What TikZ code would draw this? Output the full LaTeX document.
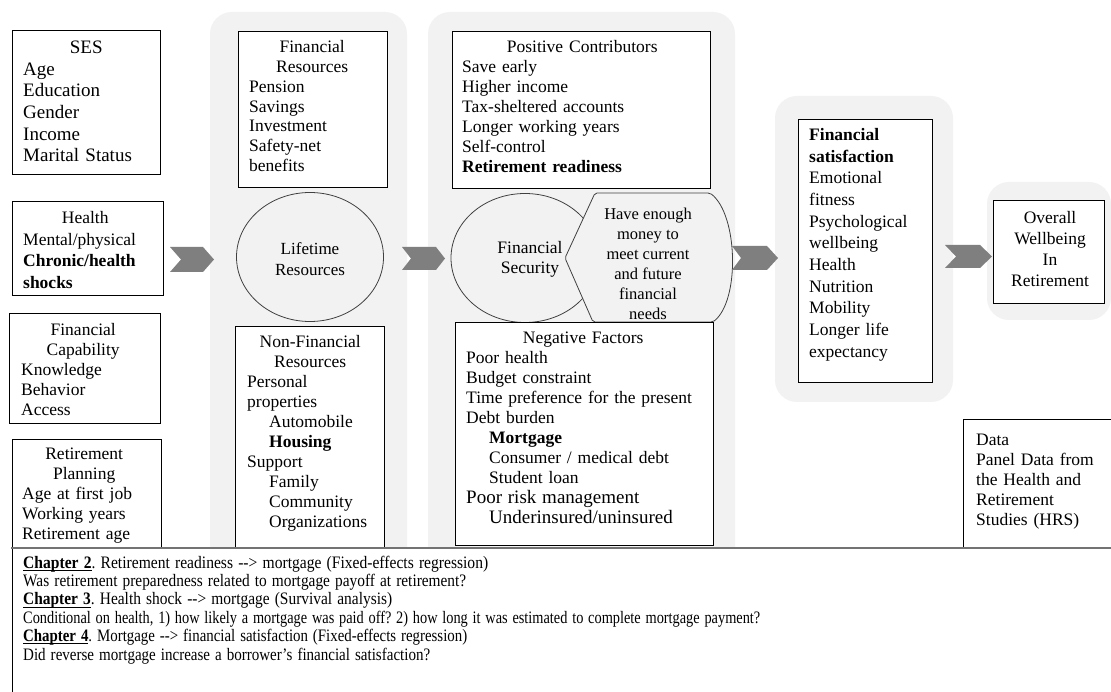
\documentclass[tikz,border=0pt]{standalone}
\usepackage{fontspec}
\setmainfont{Liberation Serif}
\usetikzlibrary{shapes.geometric,fit}
\definecolor{panelgray}{HTML}{F2F2F2}
\definecolor{arrowgray}{HTML}{7F7F7F}
\definecolor{circline}{HTML}{404040}
\newcommand\chapul[1]{\setbox0\hbox{\textbf{#1}}\rlap{\rule[-2.6pt]{\wd0}{0.9pt}}\box0}
\newcommand\fitline[2]{\resizebox{#1}{\height}{\strut #2}}
\frenchspacing
\begin{document}
\begin{tikzpicture}[x=1pt,y=-1pt,
  panel/.style={fill=panelgray, draw=none, rounded corners=22pt, inner sep=0pt},
  box/.style={draw=black, fill=white, line width=0.8pt, inner sep=0pt},
  txt/.style={inner sep=0pt, anchor=north west, align=left},
  circ/.style={ellipse, draw=circline, fill=panelgray, line width=0.8pt, inner sep=0pt},
  chev/.style={fill=arrowgray, draw=none},
  fA/.style={font=\fontsize{17.5}{20}\selectfont},
  fB/.style={font=\fontsize{17.5}{21.7}\selectfont}]
\useasboundingbox (0,0) rectangle (1111,692);
\fill[white] (0,0) rectangle (1111,692);

% panels
\node[panel, fit={(210,12) (407,620)}] (p1) {};
\node[panel, fit={(428,12) (735,620)}] (p2) {};
\node[panel, fit={(775,96) (953,402)}] (p3) {};
\node[panel, fit={(987,182) (1111,320)}] (p4) {};

% left column
\node[box, fit={(12,30) (160,174)}] (ses) {};
\node[txt, text width=126pt, font=\fontsize{19}{21.7}\selectfont] (sest) at (23,38)
  {{\centering\strut SES\par}Age\\Education\\Gender\\Income\\Marital Status};

\node[box, fit={(12,201) (163,295)}] (health) {};
\node[txt, fB, text width=124pt] (healtht) at (23,208)
  {{\centering\strut Health\par}Mental/physical\\\textbf{Chronic/health}\\\textbf{shocks}};

\node[box, fit={(9,313) (160,423)}] (fincap) {};
\node[txt, fA, text width=124pt] (fincapt) at (21,321)
  {{\centering\strut Financial\\Capability\par}Knowledge\\Behavior\\Access};

\node[box, fit={(12,439) (161,548)}] (retplan) {};
\node[txt, fA, text width=124pt] (retplant) at (22,445)
  {{\centering\strut Retirement\\Planning\par}Age at first job\\Working years\\Retirement age};

% panel 1
\node[box, fit={(238,31) (387,187)}] (finres) {};
\node[txt, font=\fontsize{17.5}{19.7}\selectfont, text width=126pt] (finrest) at (249,39)
  {{\centering\strut Financial\\Resources\par}Pension\\Savings\\Investment\\Safety-net\\benefits};

\node[circ, minimum width=147pt, minimum height=129pt] (life) at (310,257) {};
\node[font=\fontsize{17}{21}\selectfont, align=center, inner sep=0pt] (lifet) at (310,259)
  {Lifetime\\Resources};

\node[box, fit={(235,326) (384,560)}] (nonfin) {};
\node[txt, fA, text width=126pt] (nonfint) at (247,333)
  {{\centering\strut Non-Financial\\Resources\par}Personal\\properties\\
   \hspace*{22pt}Automobile\\\hspace*{22pt}\textbf{Housing}\\Support\\
   \hspace*{22pt}Family\\\hspace*{22pt}Community\\\hspace*{22pt}Organizations};

% panel 2
\node[box, fit={(452,31) (710,188)}] (poscon) {};
\node[txt, fA, text width=240pt] (pocont) at (462,38)
  {{\centering\strut Positive Contributors\par}Save early\\Higher income\\Tax-sheltered accounts\\
   Longer working years\\Self-control\\\textbf{Retirement readiness}};

\node[circ, minimum width=148pt, minimum height=129pt] (finsec) at (525,258) {};
\node[font=\fontsize{17.5}{20}\selectfont, align=center, inner sep=0pt] (finsect) at (530,259)
  {Financial\\Security};

\path[fill=panelgray, draw=circline, line width=0.8pt, rounded corners=2pt]
  (595,193) -- (710,193) .. controls (738,215) and (740,300) .. (713,322)
  -- (593,322) -- (565,258) -- cycle;
\node[font=\fontsize{16.5}{20}\selectfont, align=center, inner sep=0pt] (need) at (648,264)
  {Have enough\\money to\\meet current\\and future\\financial\\needs};

\node[box, fit={(455,322) (713,545)}] (negfac) {};
\node[txt, fA, text width=234pt] (negfact) at (466,329)
  {{\centering\strut Negative Factors\par}Poor health\\Budget constraint\\Time preference for the present\\
   Debt burden\\\hspace*{23pt}\textbf{Mortgage}\\\hspace*{23pt}Consumer / medical debt\\
   \hspace*{23pt}Student loan\\{\fontsize{19}{20.5}\selectfont Poor risk management\\
   \hspace*{23pt}Underinsured/uninsured}};

% panel 3
\node[box, fit={(798,119) (932,382)}] (finsat) {};
\node[txt, fB, text width=120pt] (finsatt) at (809,125)
  {\strut\textbf{Financial}\\\textbf{satisfaction}\\Emotional\\fitness\\Psychological\\wellbeing\\
   Health\\Nutrition\\Mobility\\Longer life\\expectancy};

% panel 4
\node[box, fit={(993,200) (1104,303)}] (overall) {};
\node[font=\fontsize{17.5}{21}\selectfont, align=center, inner sep=0pt] (overallt) at (1050,249)
  {Overall\\Wellbeing\\In\\Retirement};

% data box
\draw[line width=0.8pt] (963,548) -- (963,419) -- (1115,419);
\coordinate (datatl) at (963,419);
\node[txt, fA, text width=130pt] (datat) at (976,431)
  {\strut Data\\Panel Data from\\the Health and\\Retirement\\Studies (HRS)};

% bottom box
\fill[white] (12,548) rectangle (1115,700);
\draw[line width=0.8pt] (12,700) -- (12,548);
\draw[line width=2pt, draw=black!55] (11,548) -- (1115,548);
\node[txt, font=\fontsize{17.5}{18.4}\selectfont, text width=1080pt] (chap) at (23,555)
  {\fitline{465pt}{\chapul{Chapter 2}. Retirement readiness -{}-{}> mortgage (Fixed-effects regression)}\\
   \fitline{443pt}{Was retirement preparedness related to mortgage payoff at retirement?}\\
   \fitline{369pt}{\chapul{Chapter 3}. Health shock -{}-{}> mortgage (Survival analysis)}\\
   \fitline{737pt}{Conditional on health, 1) how likely a mortgage was paid off? 2) how long it was estimated to complete mortgage payment?}\\
   \fitline{444pt}{\chapul{Chapter 4}. Mortgage -{}-{}> financial satisfaction (Fixed-effects regression)}\\
   \fitline{407pt}{Did reverse mortgage increase a borrower’s financial satisfaction?}};

% chevron arrows
\fill[chev] (170,247) -- (203,247) -- (214,259.5) -- (203,272) -- (170,272) -- (181,259.5) -- cycle;
\fill[chev] (402,247) -- (436,247) -- (445,258.5) -- (436,270) -- (402,270) -- (411,258.5) -- cycle;
\fill[chev] (732,246) -- (767,246) -- (778,258) -- (767,270) -- (732,270) -- (741,258) -- cycle;
\fill[chev] (945,245) -- (980,245) -- (992,256.5) -- (980,268) -- (945,268) -- (956,256.5) -- cycle;
\end{tikzpicture}
\end{document}
